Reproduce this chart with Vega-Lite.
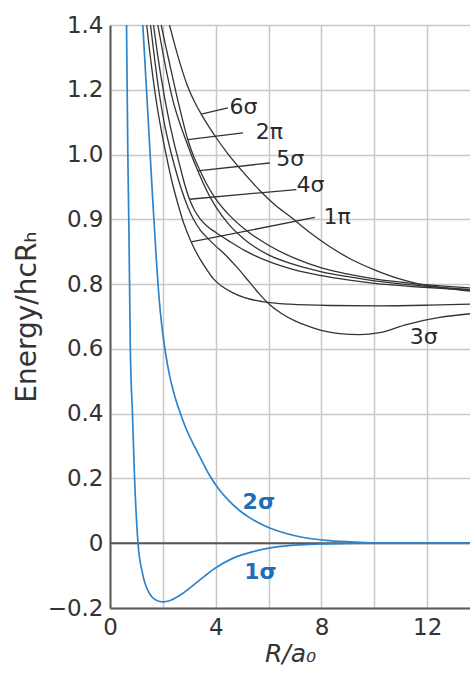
{
  "$schema": "https://vega.github.io/schema/vega-lite/v6.json",
  "width": 360,
  "height": 583,
  "autosize": "none",
  "padding": {"left": 110, "top": 25, "right": 0, "bottom": 66},
  "background": "white",
  "config": {"view": {"stroke": null}, "font": "DejaVu Sans"},
  "datasets": {
    "curves": [
      {"c":"1σ","R":0.625,"E":1.4},{"c":"1σ","R":0.65,"E":1.2},{"c":"1σ","R":0.675,"E":1.0},{"c":"1σ","R":0.71,"E":0.9},{"c":"1σ","R":0.74,"E":0.8},{"c":"1σ","R":0.77,"E":0.6},{"c":"1σ","R":0.85,"E":0.4},{"c":"1σ","R":0.93,"E":0.2},{"c":"1σ","R":1.06,"E":0},{"c":"1σ","R":1.23,"E":-0.093},{"c":"1σ","R":1.49,"E":-0.155},{"c":"1σ","R":1.75,"E":-0.176},{"c":"1σ","R":2.0,"E":-0.181},{"c":"1σ","R":2.3,"E":-0.176},{"c":"1σ","R":2.75,"E":-0.155},{"c":"1σ","R":3.39,"E":-0.114},{"c":"1σ","R":3.96,"E":-0.078},{"c":"1σ","R":4.66,"E":-0.046},{"c":"1σ","R":5.42,"E":-0.026},{"c":"1σ","R":6.18,"E":-0.013},{"c":"1σ","R":7.2,"E":-0.005},{"c":"1σ","R":8.2,"E":-0.002},{"c":"1σ","R":9.5,"E":0},{"c":"1σ","R":13.7,"E":0},
      {"c":"2σ","R":1.241,"E":1.4},{"c":"2σ","R":1.381,"E":1.2},{"c":"2σ","R":1.513,"E":1.009},{"c":"2σ","R":1.634,"E":0.918},{"c":"2σ","R":1.748,"E":0.842},{"c":"2σ","R":1.854,"E":0.76},{"c":"2σ","R":1.967,"E":0.667},{"c":"2σ","R":2.119,"E":0.578},{"c":"2σ","R":2.251,"E":0.519},{"c":"2σ","R":2.44,"E":0.457},{"c":"2σ","R":2.63,"E":0.408},{"c":"2σ","R":2.857,"E":0.358},{"c":"2σ","R":3.133,"E":0.309},{"c":"2σ","R":3.386,"E":0.269},{"c":"2σ","R":3.765,"E":0.21},{"c":"2σ","R":4.143,"E":0.164},{"c":"2σ","R":4.521,"E":0.129},{"c":"2σ","R":4.9,"E":0.101},{"c":"2σ","R":5.278,"E":0.079},{"c":"2σ","R":5.845,"E":0.054},{"c":"2σ","R":6.413,"E":0.036},{"c":"2σ","R":7.17,"E":0.02},{"c":"2σ","R":8.305,"E":0.008},{"c":"2σ","R":9.44,"E":0.003},{"c":"2σ","R":10.953,"E":0},{"c":"2σ","R":13.7,"E":0},
      {"c":"1π","R":1.389,"E":1.4},{"c":"1π","R":1.494,"E":1.323},{"c":"1π","R":1.627,"E":1.237},{"c":"1π","R":1.778,"E":1.151},{"c":"1π","R":1.949,"E":1.071},{"c":"1π","R":2.138,"E":0.997},{"c":"1π","R":2.346,"E":0.958},{"c":"1π","R":2.554,"E":0.926},{"c":"1π","R":2.781,"E":0.895},{"c":"1π","R":3.072,"E":0.865},{"c":"1π","R":3.386,"E":0.84},{"c":"1π","R":3.651,"E":0.823},{"c":"1π","R":3.916,"E":0.808},{"c":"1π","R":4.219,"E":0.794},{"c":"1π","R":4.597,"E":0.775},{"c":"1π","R":5.089,"E":0.758},{"c":"1π","R":5.77,"E":0.746},{"c":"1π","R":6.791,"E":0.738},{"c":"1π","R":8.305,"E":0.734},{"c":"1π","R":10.197,"E":0.733},{"c":"1π","R":12.09,"E":0.735},{"c":"1π","R":13.68,"E":0.738},
      {"c":"3σ","R":1.532,"E":1.4},{"c":"3σ","R":1.684,"E":1.298},{"c":"3σ","R":1.854,"E":1.194},{"c":"3σ","R":2.043,"E":1.102},{"c":"3σ","R":2.251,"E":1.025},{"c":"3σ","R":2.478,"E":0.977},{"c":"3σ","R":2.705,"E":0.946},{"c":"3σ","R":2.932,"E":0.92},{"c":"3σ","R":3.159,"E":0.9},{"c":"3σ","R":3.424,"E":0.883},{"c":"3σ","R":3.689,"E":0.871},{"c":"3σ","R":3.992,"E":0.859},{"c":"3σ","R":4.37,"E":0.845},{"c":"3σ","R":4.824,"E":0.825},{"c":"3σ","R":5.278,"E":0.803},{"c":"3σ","R":5.656,"E":0.769},{"c":"3σ","R":6.035,"E":0.737},{"c":"3σ","R":6.489,"E":0.709},{"c":"3σ","R":6.98,"E":0.687},{"c":"3σ","R":7.548,"E":0.669},{"c":"3σ","R":8.116,"E":0.655},{"c":"3σ","R":8.683,"E":0.647},{"c":"3σ","R":9.44,"E":0.644},{"c":"3σ","R":10.197,"E":0.65},{"c":"3σ","R":11.218,"E":0.675},{"c":"3σ","R":12.467,"E":0.697},{"c":"3σ","R":13.678,"E":0.709},
      {"c":"4σ","R":1.646,"E":1.4},{"c":"4σ","R":1.797,"E":1.311},{"c":"4σ","R":1.967,"E":1.222},{"c":"4σ","R":2.176,"E":1.129},{"c":"4σ","R":2.403,"E":1.043},{"c":"4σ","R":2.63,"E":0.985},{"c":"4σ","R":2.819,"E":0.955},{"c":"4σ","R":3.008,"E":0.931},{"c":"4σ","R":3.197,"E":0.914},{"c":"4σ","R":3.424,"E":0.9},{"c":"4σ","R":3.689,"E":0.889},{"c":"4σ","R":3.992,"E":0.88},{"c":"4σ","R":4.521,"E":0.866},{"c":"4σ","R":5.089,"E":0.852},{"c":"4σ","R":5.997,"E":0.835},{"c":"4σ","R":6.98,"E":0.822},{"c":"4σ","R":8.002,"E":0.813},{"c":"4σ","R":9.061,"E":0.806},{"c":"4σ","R":10.007,"E":0.801},{"c":"4σ","R":11.71,"E":0.791},{"c":"4σ","R":13.678,"E":0.781},
      {"c":"5σ","R":1.809,"E":1.4},{"c":"5σ","R":1.967,"E":1.329},{"c":"5σ","R":2.157,"E":1.249},{"c":"5σ","R":2.384,"E":1.166},{"c":"5σ","R":2.648,"E":1.095},{"c":"5σ","R":2.932,"E":1.031},{"c":"5σ","R":3.159,"E":0.991},{"c":"5σ","R":3.322,"E":0.975},{"c":"5σ","R":3.651,"E":0.945},{"c":"5σ","R":3.992,"E":0.92},{"c":"5σ","R":4.521,"E":0.891},{"c":"5σ","R":5.089,"E":0.869},{"c":"5σ","R":5.997,"E":0.845},{"c":"5σ","R":6.98,"E":0.83},{"c":"5σ","R":8.002,"E":0.819},{"c":"5σ","R":9.061,"E":0.811},{"c":"5σ","R":10.007,"E":0.805},{"c":"5σ","R":11.71,"E":0.795},{"c":"5σ","R":13.678,"E":0.783},
      {"c":"2π","R":1.937,"E":1.4},{"c":"2π","R":2.1,"E":1.338},{"c":"2π","R":2.289,"E":1.268},{"c":"2π","R":2.516,"E":1.185},{"c":"2π","R":2.743,"E":1.108},{"c":"2π","R":2.944,"E":1.046},{"c":"2π","R":3.159,"E":0.998},{"c":"2π","R":3.386,"E":0.977},{"c":"2π","R":3.651,"E":0.955},{"c":"2π","R":3.992,"E":0.932},{"c":"2π","R":4.521,"E":0.906},{"c":"2π","R":5.089,"E":0.885},{"c":"2π","R":5.997,"E":0.86},{"c":"2π","R":6.98,"E":0.84},{"c":"2π","R":8.002,"E":0.825},{"c":"2π","R":9.061,"E":0.815},{"c":"2π","R":10.007,"E":0.808},{"c":"2π","R":11.71,"E":0.8},{"c":"2π","R":13.678,"E":0.788},
      {"c":"6σ","R":2.251,"E":1.4},{"c":"6σ","R":2.44,"E":1.342},{"c":"6σ","R":2.667,"E":1.277},{"c":"6σ","R":2.932,"E":1.212},{"c":"6σ","R":3.235,"E":1.157},{"c":"6σ","R":3.451,"E":1.125},{"c":"6σ","R":3.727,"E":1.088},{"c":"6σ","R":4.018,"E":1.052},{"c":"6σ","R":4.483,"E":1.0},{"c":"6σ","R":5.013,"E":0.974},{"c":"6σ","R":5.656,"E":0.945},{"c":"6σ","R":6.224,"E":0.923},{"c":"6σ","R":6.791,"E":0.905},{"c":"6σ","R":7.548,"E":0.88},{"c":"6σ","R":8.305,"E":0.858},{"c":"6σ","R":9.137,"E":0.838},{"c":"6σ","R":10.007,"E":0.822},{"c":"6σ","R":10.953,"E":0.808},{"c":"6σ","R":11.71,"E":0.8},{"c":"6σ","R":12.656,"E":0.788},{"c":"6σ","R":13.678,"E":0.778}
    ],
    "leaders": [
      {"t":"6σ","R":3.451,"E":1.125,"R2":4.46,"E2":1.144},
      {"t":"2π","R":2.944,"E":1.046,"R2":5.03,"E2":1.067},
      {"t":"5σ","R":3.322,"E":0.975,"R2":6.04,"E2":0.987},
      {"t":"4σ","R":3.008,"E":0.931,"R2":7.05,"E2":0.946},
      {"t":"1π","R":3.072,"E":0.865,"R2":7.75,"E2":0.903}
    ],
    "labels": [
      {"t":"6σ","R":5.05,"E":1.147,"g":"k"},
      {"t":"2π","R":6.03,"E":1.069,"g":"k"},
      {"t":"5σ","R":6.82,"E":0.993,"g":"k"},
      {"t":"4σ","R":7.58,"E":0.953,"g":"k"},
      {"t":"1π","R":8.59,"E":0.904,"g":"k"},
      {"t":"3σ","R":11.87,"E":0.638,"g":"k"},
      {"t":"2σ","R":5.63,"E":0.128,"g":"b"},
      {"t":"1σ","R":5.69,"E":-0.089,"g":"b"}
    ],
    "zero": [{"R":0,"E":0,"R2":13.62}]
  },
  "encoding": {
    "x": {
      "field": "R", "type": "quantitative",
      "scale": {"domain": [0, 13.62], "nice": false, "zero": false},
      "axis": {
        "values": [0, 2, 4, 6, 8, 10, 12],
        "labelExpr": "datum.value % 4 === 0 ? datum.label : ''",
        "title": "R/a₀",
        "grid": true, "gridColor": "#c8c8c8", "gridWidth": 1.5,
        "ticks": false,
        "domainColor": "#5a5a5a", "domainWidth": 2,
        "labelFontSize": 23, "labelColor": "#333", "labelPadding": 8,
        "labelFlush": false, "labelOverlap": false,
        "titleFontSize": 25, "titleFontStyle": "italic", "titleFontWeight": "normal",
        "titleColor": "#333", "titlePadding": 2
      }
    },
    "y": {
      "field": "E", "type": "quantitative",
      "scale": {"domain": [-0.2, 0.8, 0.9, 1.0, 1.4], "range": [583, 259.1, 194.3, 129.6, 0], "nice": false, "zero": false},
      "axis": {
        "values": [-0.2, 0, 0.2, 0.4, 0.6, 0.8, 0.9, 1.0, 1.2, 1.4],
        "labelExpr": "datum.value === 0 ? '0' : format(datum.value, '.1f')",
        "title": "Energy/hcRₕ",
        "grid": true, "gridColor": "#c8c8c8", "gridWidth": 1.5,
        "ticks": false,
        "domainColor": "#5a5a5a", "domainWidth": 2,
        "labelFontSize": 23, "labelColor": "#333", "labelPadding": 7,
        "labelFlush": false, "labelOverlap": false,
        "titleFontSize": 28, "titleFontWeight": "normal", "titleColor": "#333",
        "titlePadding": 6
      }
    }
  },
  "layer": [
    {
      "data": {"name": "zero"},
      "mark": {"type": "rule", "color": "#555", "strokeWidth": 2},
      "encoding": {"x2": {"field": "R2"}}
    },
    {
      "data": {"name": "curves"},
      "transform": [{"filter": "datum.c !== '1σ' && datum.c !== '2σ'"}],
      "mark": {"type": "line", "interpolate": "monotone", "clip": true, "color": "#333", "strokeWidth": 1.3},
      "encoding": {"detail": {"field": "c"}}
    },
    {
      "data": {"name": "curves"},
      "transform": [{"filter": "datum.c === '1σ' || datum.c === '2σ'"}],
      "mark": {"type": "line", "interpolate": "monotone", "clip": true, "color": "#2e84cc", "strokeWidth": 1.7},
      "encoding": {"detail": {"field": "c"}}
    },
    {
      "data": {"name": "leaders"},
      "mark": {"type": "rule", "color": "#333", "strokeWidth": 1.3},
      "encoding": {"x2": {"field": "R2"}, "y2": {"field": "E2"}}
    },
    {
      "data": {"name": "labels"},
      "transform": [{"filter": "datum.g === 'k'"}],
      "mark": {"type": "text", "fontSize": 22, "align": "center", "baseline": "middle", "color": "#2a2a2a"},
      "encoding": {"text": {"field": "t"}}
    },
    {
      "data": {"name": "labels"},
      "transform": [{"filter": "datum.g === 'b'"}],
      "mark": {"type": "text", "fontSize": 22, "fontWeight": "bold", "align": "center", "baseline": "middle", "color": "#1d6fb8"},
      "encoding": {"text": {"field": "t"}}
    }
  ]
}
